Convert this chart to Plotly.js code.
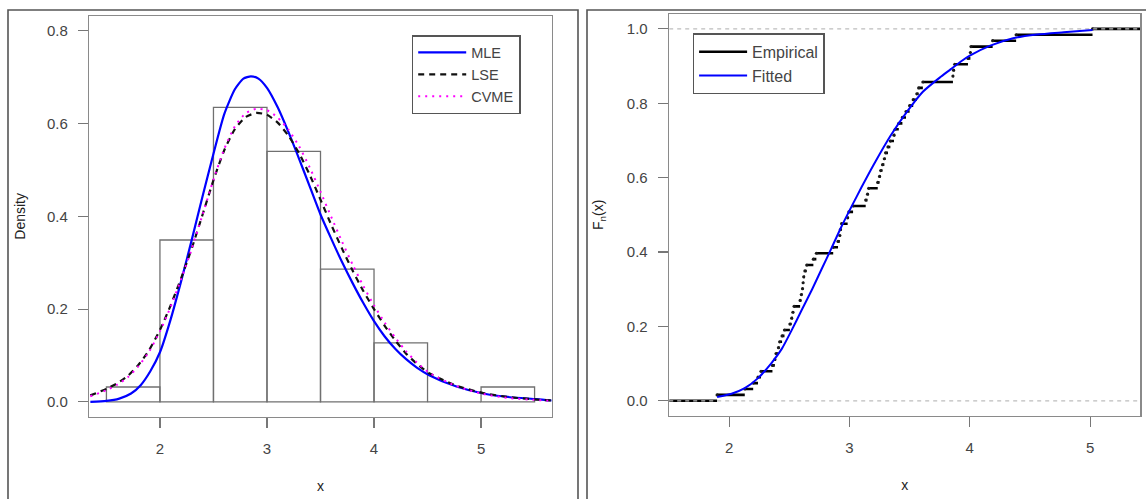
<!DOCTYPE html>
<html>
<head>
<meta charset="utf-8">
<script src="https://cdn.plot.ly/plotly-3.0.1.min.js"></script>
<style>html,body{margin:0;padding:0;background:#fff;}#chart{width:1146px;height:499px;}</style>
</head>
<body>
<div id="chart"></div>
<script>
// ---------- Left panel: histogram + fitted densities ----------
const binLeft = [1.5, 2.0, 2.5, 3.0, 3.5, 4.0, 4.5, 5.0];
const binDensity = [0.032, 0.349, 0.635, 0.540, 0.286, 0.127, 0.000, 0.032];

const mleX = [1.35, 1.50, 1.62, 1.73, 1.82, 1.91, 2.00, 2.10, 2.20, 2.30, 2.40, 2.50, 2.60, 2.70, 2.78, 2.85, 2.92, 3.00, 3.10, 3.20, 3.30, 3.40, 3.50, 3.60, 3.70, 3.80, 3.90, 4.00, 4.10, 4.20, 4.30, 4.40, 4.52, 4.77, 5.02, 5.27, 5.52, 5.66];
const mleY = [0.000, 0.002, 0.007, 0.018, 0.036, 0.066, 0.107, 0.178, 0.262, 0.352, 0.445, 0.535, 0.620, 0.674, 0.697, 0.702, 0.697, 0.677, 0.635, 0.582, 0.524, 0.464, 0.404, 0.352, 0.302, 0.256, 0.213, 0.174, 0.141, 0.114, 0.092, 0.074, 0.057, 0.033, 0.018, 0.010, 0.006, 0.003];

const lseX = [1.35, 1.50, 1.60, 1.70, 1.80, 1.90, 2.00, 2.10, 2.20, 2.30, 2.40, 2.50, 2.60, 2.70, 2.80, 2.90, 3.00, 3.10, 3.20, 3.30, 3.40, 3.50, 3.60, 3.70, 3.80, 3.90, 4.00, 4.10, 4.20, 4.30, 4.40, 4.52, 4.77, 5.02, 5.27, 5.52, 5.66];
const lseY = [0.014, 0.028, 0.040, 0.056, 0.080, 0.112, 0.155, 0.208, 0.268, 0.333, 0.405, 0.478, 0.542, 0.588, 0.614, 0.623, 0.619, 0.602, 0.574, 0.536, 0.489, 0.436, 0.382, 0.331, 0.283, 0.239, 0.200, 0.164, 0.132, 0.104, 0.082, 0.061, 0.035, 0.019, 0.010, 0.005, 0.003];

const cvmeX = [1.35, 1.50, 1.60, 1.70, 1.80, 1.90, 2.00, 2.10, 2.20, 2.30, 2.40, 2.50, 2.60, 2.70, 2.80, 2.90, 3.00, 3.10, 3.20, 3.30, 3.40, 3.50, 3.60, 3.70, 3.80, 3.90, 4.00, 4.10, 4.20, 4.30, 4.40, 4.52, 4.77, 5.02, 5.27, 5.52, 5.66];
const cvmeY = [0.012, 0.025, 0.037, 0.053, 0.077, 0.109, 0.152, 0.205, 0.266, 0.332, 0.405, 0.479, 0.545, 0.594, 0.622, 0.632, 0.629, 0.613, 0.587, 0.551, 0.505, 0.453, 0.399, 0.346, 0.296, 0.250, 0.208, 0.171, 0.138, 0.109, 0.085, 0.062, 0.034, 0.017, 0.008, 0.004, 0.002];

// ---------- Right panel: empirical CDF + fitted CDF ----------
const sample = [1.90, 2.13, 2.20, 2.24, 2.265, 2.36, 2.38, 2.39, 2.41, 2.42, 2.44, 2.46,
  2.505, 2.52, 2.53, 2.54, 2.59, 2.60, 2.61, 2.615, 2.62, 2.63, 2.645, 2.70, 2.725, 2.865,
  2.905, 2.92, 2.925, 2.935, 2.985, 2.995,
  3.03, 3.135, 3.15, 3.16, 3.235, 3.25, 3.26, 3.275, 3.29, 3.30, 3.32, 3.34, 3.37, 3.38, 3.41, 3.44, 3.47,
  3.50, 3.53, 3.56, 3.575, 3.61, 3.86, 3.865, 3.875, 3.985,
  4.005, 4.01, 4.19, 4.385, 5.02];

const fitX = [1.90, 2.02, 2.13, 2.24, 2.35, 2.44, 2.52, 2.60, 2.69, 2.77, 2.85, 2.93, 3.02, 3.10, 3.20, 3.34, 3.48, 3.61, 3.75, 3.84, 3.92, 4.00, 4.17, 4.36, 4.56, 4.78, 5.02];
const fitY = [0.010, 0.019, 0.034, 0.061, 0.101, 0.141, 0.190, 0.242, 0.300, 0.355, 0.410, 0.466, 0.524, 0.574, 0.634, 0.712, 0.778, 0.831, 0.869, 0.891, 0.911, 0.928, 0.955, 0.975, 0.985, 0.991, 0.997];

const xTicks = [2, 3, 4, 5];
const yTicksL = [0.0, 0.2, 0.4, 0.6, 0.8];
const yTicksR = [0.0, 0.2, 0.4, 0.6, 0.8, 1.0];

// ---------- build traces ----------
const W = 1146, H = 499;
const px = v => v / W, py = v => 1 - v / H;
const FONT = 'Liberation Sans, Arial, Helvetica, sans-serif';

const xL = [1.34, 5.66], yL = [-0.032, 0.832];
const xR = [1.502, 5.417], yR = [-0.04, 1.04];

const traces = [];
traces.push({
  type: 'bar', x: binLeft.map(v => v + 0.25), y: binDensity, width: 0.5,
  marker: {color: 'rgba(255,255,255,0)', line: {color: '#707070', width: 1.3}},
  xaxis: 'x', yaxis: 'y', showlegend: false, hoverinfo: 'x+y'
});
traces.push({type: 'scatter', mode: 'lines', x: mleX, y: mleY, name: 'MLE', legend: 'legend', legendgroup: 'a',
  line: {color: '#0000FF', width: 2.2, shape: 'spline', smoothing: 0.6}, xaxis: 'x', yaxis: 'y'});
traces.push({type: 'scatter', mode: 'lines', x: lseX, y: lseY, name: 'LSE', legend: 'legend', legendgroup: 'b',
  line: {color: '#111111', width: 2.2, dash: '6px,5px', shape: 'spline', smoothing: 0.6}, xaxis: 'x', yaxis: 'y'});
traces.push({type: 'scatter', mode: 'lines', x: cvmeX, y: cvmeY, name: 'CVME', legend: 'legend', legendgroup: 'c',
  line: {color: '#FF00FF', width: 2, dash: '2px,5px', shape: 'spline', smoothing: 0.6}, xaxis: 'x', yaxis: 'y'});

// empirical step segments
const n = sample.length;
const segX = [], segY = [];
const knots = [xR[0]].concat(sample).concat([xR[1]]);
for (let k = 0; k <= n; k++) {
  segX.push(knots[k], knots[k + 1], null);
  segY.push(k / n, k / n, null);
}
traces.push({type: 'scatter', mode: 'lines', x: segX, y: segY, name: 'Empirical', legend: 'legend2', legendgroup: 'd',
  line: {color: '#000000', width: 2.6}, xaxis: 'x2', yaxis: 'y2', connectgaps: false});
traces.push({type: 'scatter', mode: 'markers', x: sample, y: sample.map((v, i) => (i + 1) / n), showlegend: false,
  marker: {color: '#1a1a1a', size: 3.2}, xaxis: 'x2', yaxis: 'y2'});
// reference lines at 0 and 1
traces.push({type: 'scatter', mode: 'lines', x: [xR[0], xR[1], null, xR[0], xR[1]], y: [0, 0, null, 1, 1], showlegend: false,
  line: {color: '#BDBDBD', width: 1.3, dash: '4px,4px'}, xaxis: 'x2', yaxis: 'y2', hoverinfo: 'skip'});
traces.push({type: 'scatter', mode: 'lines', x: fitX, y: fitY, name: 'Fitted', legend: 'legend2', legendgroup: 'e',
  line: {color: '#0000FF', width: 2, shape: 'spline', smoothing: 0.6}, xaxis: 'x2', yaxis: 'y2'});

const tickFont = {family: FONT, size: 15, color: '#444'};
function xAxis(dom, rng) {
  return {domain: dom, range: rng, tickvals: xTicks, ticktext: xTicks.map(String), ticks: 'outside', ticklen: 10,
    tickwidth: 1.2, tickcolor: '#777', showline: true, mirror: true, linecolor: '#8a8a8a', linewidth: 1.5,
    showgrid: false, zeroline: false, tickfont: tickFont, ticklabelstandoff: 8,
    title: {text: 'x', font: {family: FONT, size: 14, color: '#222'}, standoff: 25}};
}
function yAxis(dom, rng, tv) {
  return {domain: dom, range: rng, tickvals: tv, ticktext: tv.map(v => v.toFixed(1)), ticks: 'outside', ticklen: 10,
    tickwidth: 1.2, tickcolor: '#777', showline: true, mirror: true, linecolor: '#8a8a8a', linewidth: 1.5,
    showgrid: false, zeroline: false, tickfont: tickFont, ticklabelstandoff: 7, tickangle: 0};
}

const layout = {
  width: W, height: H, margin: {l: 0, r: 0, t: 0, b: 0}, paper_bgcolor: '#fff', plot_bgcolor: '#fff',
  font: {family: FONT}, showlegend: true, bargap: 0,
  xaxis: Object.assign(xAxis([px(89.3), px(551.7)], xL), {anchor: 'y'}),
  yaxis: Object.assign(yAxis([py(416.7), py(16)], yL, yTicksL), {anchor: 'x',
    title: {text: 'Density', font: {family: FONT, size: 14, color: '#222'}, standoff: 18}}),
  xaxis2: Object.assign(xAxis([px(669.2), px(1140.3)], xR), {anchor: 'y2'}),
  yaxis2: Object.assign(yAxis([py(415.7), py(14)], yR, yTicksR), {anchor: 'x2',
    title: {text: 'F<sub>n</sub>(x)', font: {family: FONT, size: 14, color: '#222'}, standoff: 20}}),
  legend: {x: px(411.7), y: py(35), xanchor: 'left', yanchor: 'top', bgcolor: '#fff', bordercolor: '#555', borderwidth: 1.5,
    font: {family: FONT, size: 14.5, color: '#444'}, tracegroupgap: 3, traceorder: 'normal', itemwidth: 48},
  legend2: {x: px(692.6), y: py(33.3), xanchor: 'left', yanchor: 'top', bgcolor: '#fff', bordercolor: '#555', borderwidth: 1.5,
    font: {family: FONT, size: 16, color: '#444'}, tracegroupgap: 3, traceorder: 'normal', itemwidth: 48},
  shapes: [
    {type: 'path', xref: 'paper', yref: 'paper', path: `M ${px(8)} ${py(499)} L ${px(8)} ${py(10)} L ${px(578)} ${py(10)} L ${px(578)} ${py(499)}`,
      line: {color: '#555', width: 1.6}},
    {type: 'path', xref: 'paper', yref: 'paper', path: `M ${px(587)} ${py(499)} L ${px(587)} ${py(10)} L ${px(1146)} ${py(10)}`,
      line: {color: '#555', width: 1.6}}
  ]
};

Plotly.newPlot('chart', traces, layout, {staticPlot: true, displayModeBar: false});
</script>
</body>
</html>
